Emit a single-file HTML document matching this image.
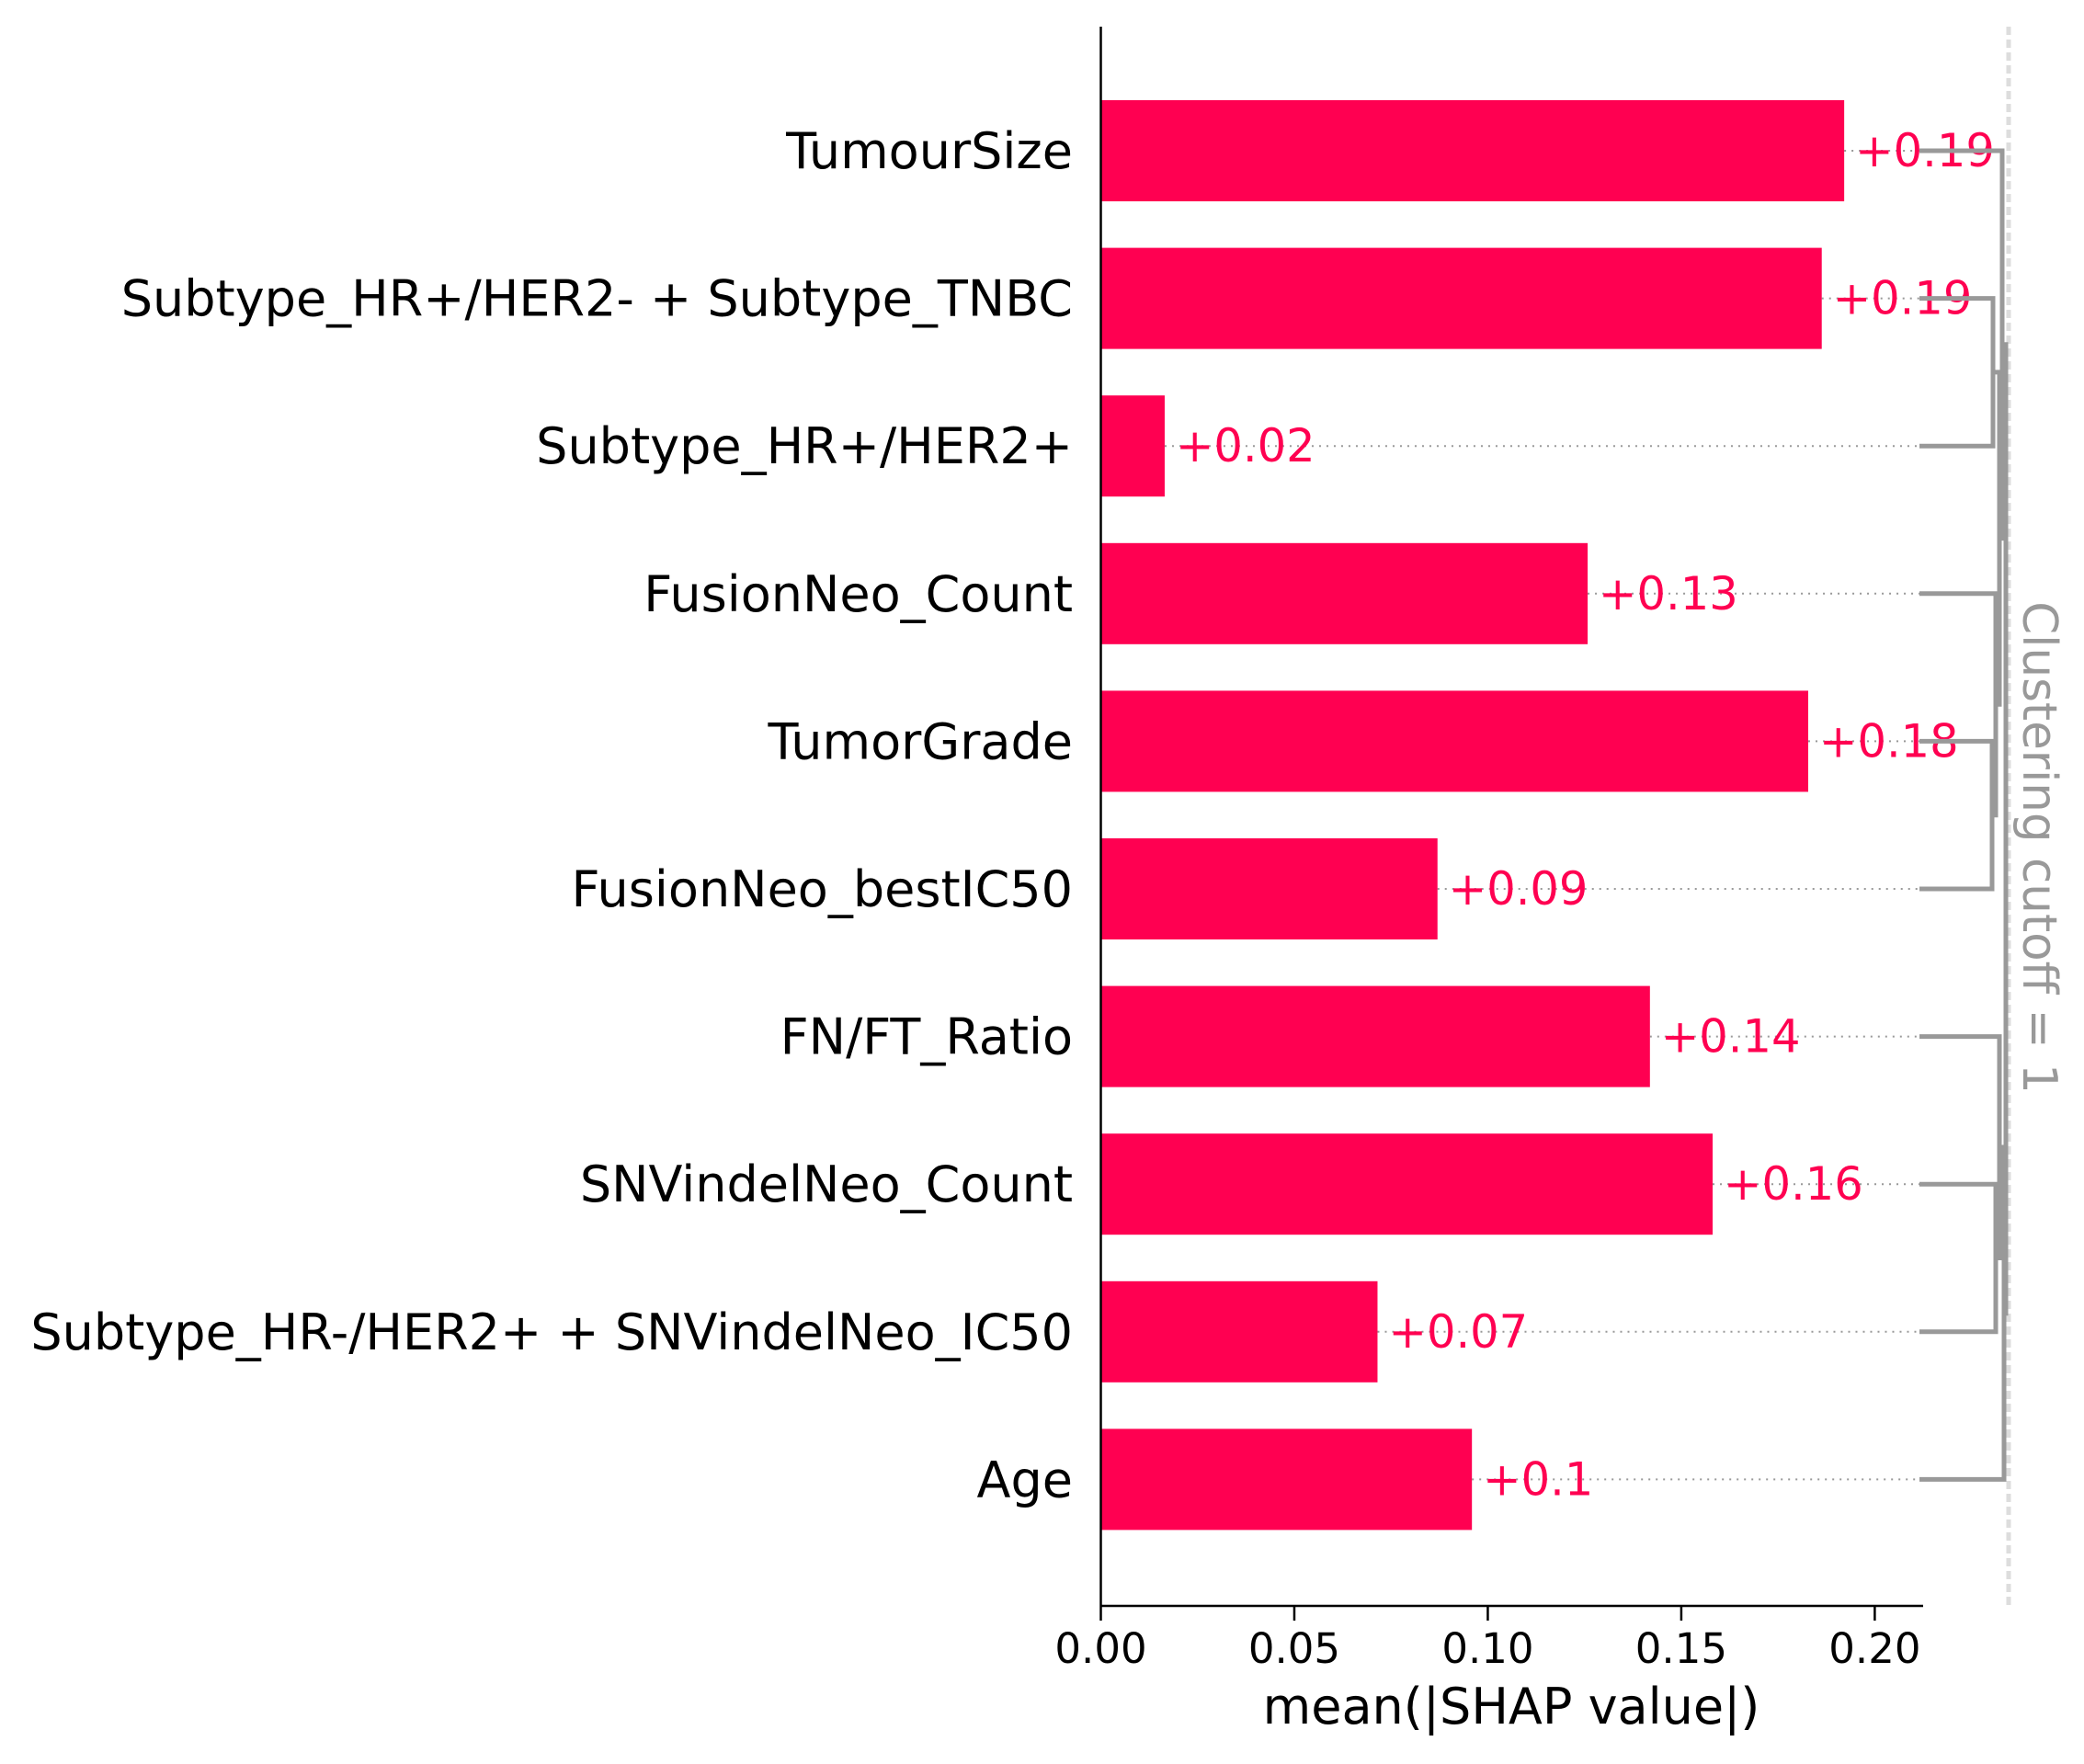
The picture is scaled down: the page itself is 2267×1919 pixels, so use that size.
<!DOCTYPE html>
<html><head><meta charset="utf-8"><style>
html,body{margin:0;padding:0;background:#fff}
svg{display:block;font-family:"DejaVu Sans","Liberation Sans",sans-serif}
</style></head><body>
<svg id="chart" width="2267" height="1919" viewBox="0 0 2267 1919" xmlns="http://www.w3.org/2000/svg">
<g id="g"></g>
</svg>
<script>
const features = ["TumourSize","Subtype_HR+/HER2- + Subtype_TNBC","Subtype_HR+/HER2+","FusionNeo_Count","TumorGrade","FusionNeo_bestIC50","FN/FT_Ratio","SNVindelNeo_Count","Subtype_HR-/HER2+ + SNVindelNeo_IC50","Age"];
const values = [0.1921,0.1863,0.0165,0.1258,0.1828,0.0870,0.1419,0.1581,0.0715,0.0959];
const valueLabels = ["+0.19","+0.19","+0.02","+0.13","+0.18","+0.09","+0.14","+0.16","+0.07","+0.1"];
const xTicks = [0,0.05,0.10,0.15,0.20];
const xTickLabels = ["0.00","0.05","0.10","0.15","0.20"];
const xMax = 0.2144;
const xAxisMax = 0.2125;

const NS="http://www.w3.org/2000/svg";
const g=document.getElementById('g');
const x0=1197.5, xEnd=2100, yTop=29, yBot=1747;
const X=v=>x0+(v/xMax)*(xEnd-x0);
const rowStep=160.6, row0=164;
const Y=i=>row0+i*rowStep;
function mk(t,a,p){const e=document.createElementNS(NS,t);for(const k in a)e.setAttribute(k,a[k]);(p||g).appendChild(e);return e;}

features.forEach((f,i)=>{
  const y=Y(i);
  const dl=mk('line',{x1:X(values[i]),x2:2088,y1:y,y2:y,stroke:'#999','stroke-width':2,'stroke-dasharray':'2,6'});
  
  
  const r=mk('rect',{x:x0,y:y-55,width:X(values[i])-x0,height:110,fill:'#ff0051'});
  
  
  const t=mk('text',{x:1167,y:y+19,'text-anchor':'end','font-size':54,fill:'#000'});
  t.textContent=f;
  
  
  const v=mk('text',{x:X(values[i])+12,y:y+17,'font-size':49.5,fill:'#ff0051'});
  v.textContent=valueLabels[i];
  
  
});

const ya=mk('line',{x1:x0,x2:x0,y1:yTop,y2:yBot,stroke:'#000','stroke-width':2.5});


const xa=mk('line',{x1:x0-1,x2:X(xAxisMax),y1:yBot,y2:yBot,stroke:'#000','stroke-width':2.5});


xTicks.forEach((v,i)=>{
  const tk=mk('line',{x1:X(v),x2:X(v),y1:yBot,y2:yBot+16,stroke:'#000','stroke-width':2.5});
  
  
  const tl=mk('text',{x:X(v),y:1809,'text-anchor':'middle','font-size':45,fill:'#000'});
  tl.textContent=xTickLabels[i];
  
  
});
const xt=mk('text',{x:1644,y:1875,'text-anchor':'middle','font-size':54,fill:'#000'});
xt.textContent='mean(|SHAP value|)';



const cut=mk('line',{x1:2185,x2:2185,y1:yTop,y2:yBot,stroke:'#ddd','stroke-width':5,'stroke-dasharray':'9,5'});


const dg=mk('g',{stroke:'#999','stroke-width':5,fill:'none'});


const nodes=features.map((f,i)=>({x:2088,y:Y(i)}));
const merges=[[1,2,2168],[4,5,2167],[3,11,2171],[10,12,2175],[0,13,2178],[7,8,2171],[6,15,2175],[16,9,2180],[14,17,2182]];
merges.forEach(([a,b,mx])=>{
  const A=nodes[a],B=nodes[b];
  mk('path',{d:`M${A.x},${A.y}H${mx}V${B.y}H${B.x}`},dg);
  nodes.push({x:mx,y:(A.y+B.y)/2});
});
const ct=mk('text',{x:2218,y:922,'text-anchor':'middle','font-size':51.5,fill:'#999',transform:'rotate(90 2218 922)','dominant-baseline':'central'});
ct.textContent='Clustering cutoff = 1';


</script>
</body></html>
